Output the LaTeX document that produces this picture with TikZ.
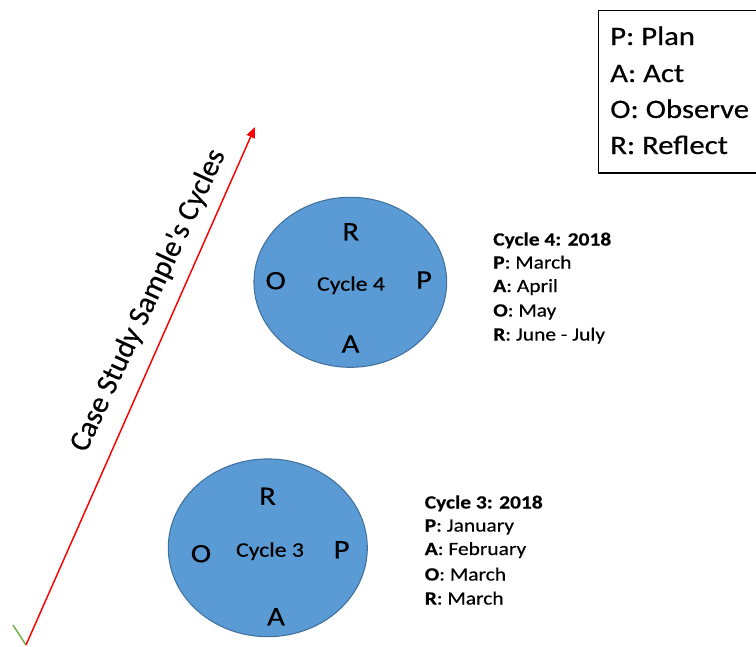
\documentclass[tikz,border=0pt]{standalone}
\usepackage{fontspec}
\setmainfont{Carlito}[FakeStretch=1.15,FakeBold=0.4]
\newfontfamily\axisfont{Carlito}[FakeBold=0.4]
\usetikzlibrary{shapes.geometric,arrows.meta}

\definecolor{cyclefill}{HTML}{5B9BD5}
\definecolor{cycleedge}{HTML}{41719C}
\definecolor{axisred}{HTML}{FF0000}
\definecolor{axisgreen}{HTML}{70AD47}

\begin{document}
\begin{tikzpicture}[x=0.75pt,y=-0.75pt,
  cycle/.style={ellipse,draw=cycleedge,line width=0.8pt,fill=cyclefill,inner sep=0pt},
  phase/.style={font=\fontsize{20}{24}\selectfont,inner sep=0pt},
  cyclename/.style={font=\fontsize{15.5}{18}\selectfont,inner sep=0pt,anchor=base},
  legendline/.style={font=\fontsize{20}{24}\selectfont,inner sep=0pt,anchor=base west},
  noteline/.style={font=\fontsize{14}{17}\selectfont,inner sep=0pt,anchor=base west},
  axisline/.style={draw=axisred,line width=1.1pt,-{Triangle[length=8pt,width=6.5pt]}},
  stub/.style={draw=axisgreen,line width=1.1pt},
]
\useasboundingbox (0,0) rectangle (756,646);
\clip (0,0) rectangle (756,646);

% legend
\node[draw,line width=1pt,minimum width=130pt,minimum height=122pt,anchor=north west,inner sep=0pt] (legend) at (598,9.5) {};
\node[legendline] (lp) at (610,45) {P: Plan};
\node[legendline] (la) at (610,82) {A: Act};
\node[legendline] (lo) at (610,118) {O: Observe};
\node[legendline] (lr) at (610,154) {R: Reflect};

% time axis
\coordinate (tail) at (26,645);
\coordinate (head) at (255,127);
\coordinate (stubend) at (13,625);
\draw[stub] (stubend) -- (tail);
\draw[axisline] (tail) -- (head);
\node[font=\axisfont\fontsize{22.5}{26}\selectfont,inner sep=0pt,rotate=65] (axislabel) at (148.5,300.5) {Case Study Sample's Cycles};

% cycle 4
\node[cycle,minimum width=144.5pt,minimum height=127.5pt] (c4) at (350.3,282.3) {};
\node[phase] (c4r) at (350.7,231.7) {R};
\node[phase] (c4o) at (275.7,280.7) {O};
\node[phase] (c4p) at (424,280) {P};
\node[phase] (c4a) at (350.5,344) {A};
\node[cyclename] (c4name) at (351,290.7) {Cycle 4};

% cycle 3
\node[cycle,minimum width=149.25pt,minimum height=133.3pt] (c3) at (267.8,547.8) {};
\node[phase] (c3r) at (267.5,496.3) {R};
\node[phase] (c3o) at (201,553.7) {O};
\node[phase] (c3p) at (341.7,549.7) {P};
\node[phase] (c3a) at (276,616.7) {A};
\node[cyclename] (c3name) at (270,556.7) {Cycle 3};

% cycle 4 schedule
\node[noteline] (n4t) at (493,245.5) {\textbf{Cycle 4: 2018}};
\node[noteline] (n4p) at (493,268.5) {\textbf{P}: March};
\node[noteline] (n4a) at (493,292) {\textbf{A}: April};
\node[noteline] (n4o) at (493,316.5) {\textbf{O}: May};
\node[noteline] (n4r) at (493,340.5) {\textbf{R}: June - July};

% cycle 3 schedule
\node[noteline] (n3t) at (424.5,508.5) {\textbf{Cycle 3: 2018}};
\node[noteline] (n3p) at (424.5,531.5) {\textbf{P}: January};
\node[noteline] (n3a) at (424.5,555) {\textbf{A}: February};
\node[noteline] (n3o) at (424.5,580.5) {\textbf{O}: March};
\node[noteline] (n3r) at (424.5,604.5) {\textbf{R}: March};
\end{tikzpicture}
\end{document}
